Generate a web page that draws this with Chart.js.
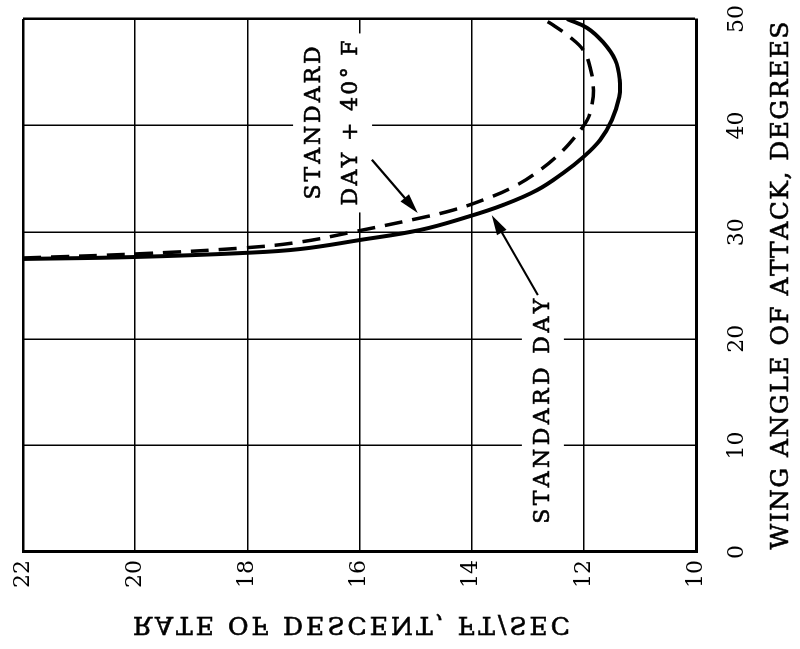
<!DOCTYPE html>
<html>
<head>
<meta charset="utf-8">
<script src="https://cdn.jsdelivr.net/npm/chart.js@4"></script>
<style>
  html, body { margin: 0; background: #fff; overflow: hidden; }
  #wrap { position: relative; width: 800px; height: 649px; overflow: hidden; }
  /* the chart is drawn upright, then turned a quarter to the left like the scan */
  #graf { position: absolute; left: 0; top: 0; transform-origin: 0 0; transform: translateY(649px) rotate(-90deg); }
</style>
</head>
<body>
<div id="wrap"><canvas id="graf" width="649" height="800"></canvas></div>
<script>
// wing angle of attack, degrees
const angleTicks = [0, 10, 20, 30, 40, 50]
// rate of descent, ft/sec
const rateTicks = [10, 12, 14, 16, 18, 20, 22]

// standard day
const stdAngle = [27.49, 27.67, 28.05, 28.42, 29.27, 30.21, 31.43, 32.55, 33.96, 35.55, 37.05, 38.65, 40.53, 42.68, 44.28, 46.15, 47.84, 49.16, 50.0]
const stdRate = [22.0, 20.04, 18.08, 17.06, 15.99, 14.92, 14.08, 13.44, 12.83, 12.37, 12.01, 11.71, 11.50, 11.37, 11.36, 11.44, 11.66, 11.94, 12.30]

// standard day + 40 F
const hotAngle = [27.58, 27.95, 28.52, 29.08, 30.02, 31.33, 32.08, 33.02, 34.24, 35.83, 37.43, 38.93, 40.53, 42.12, 43.62, 45.5, 47.09, 48.31, 49.44, 50.0]
const hotRate = [22.0, 20.04, 18.08, 17.06, 16.12, 14.92, 14.33, 13.80, 13.26, 12.78, 12.42, 12.16, 11.94, 11.85, 11.83, 11.89, 12.01, 12.25, 12.55, 12.73]

const xTitle = 'WING ANGLE OF ATTACK, DEGREES'
const yTitle = 'RATE OF DESCENT, FT/SEC'

const serif = '"DejaVu Serif", "Liberation Serif", serif'

// notes on the plot (positions in data units: angle, rate; width in px)
const notes = [
    { lines: ['STANDARD', 'DAY + 40° F'], widths: [153, 165], angle: 40.25, rate: 16.48 },
    { lines: ['STANDARD DAY'], widths: [225], angle: 13.2, rate: 12.73 }
]
const arrows = [
    { from: [36.8, 15.78], to: [31.8, 14.96] },
    { from: [24.1, 12.82], to: [31.6, 13.64] }
]

// text spread out to a given width, the scan's type is wider than ours
function spaced(ctx, text, cx, cy, width) {
    const chars = [...text]
    const ws = chars.map(c => ctx.measureText(c).width)
    const total = ws.reduce((s, v) => s + v, 0)
    const gap = chars.length > 1 ? (width - total) / (chars.length - 1) : 0
    let x = cx - width / 2
    ctx.textAlign = 'left'
    ctx.lineWidth = 0.6
    chars.forEach((c, i) => {
        ctx.fillText(c, x, cy)
        ctx.strokeText(c, x, cy)
        x += ws[i] + gap
    })
}

function arrow(ctx, x0, y0, x1, y1) {
    const a = Math.atan2(y1 - y0, x1 - x0)
    const len = 20, half = 5.5
    ctx.lineWidth = 2.2
    ctx.beginPath()
    ctx.moveTo(x0, y0)
    ctx.lineTo(x1 - len * 0.7 * Math.cos(a), y1 - len * 0.7 * Math.sin(a))
    ctx.stroke()
    ctx.beginPath()
    ctx.moveTo(x1, y1)
    ctx.lineTo(x1 - len * Math.cos(a) + half * Math.sin(a), y1 - len * Math.sin(a) - half * Math.cos(a))
    ctx.lineTo(x1 - len * Math.cos(a) - half * Math.sin(a), y1 - len * Math.sin(a) + half * Math.cos(a))
    ctx.closePath()
    ctx.fill()
}

const decor = {
    id: 'decor',
    afterDatasetsDraw(chart) {
        const { ctx, chartArea: a, scales: { x, y } } = chart
        ctx.save()
        ctx.fillStyle = '#000'
        ctx.strokeStyle = '#000'
        ctx.textBaseline = 'middle'

        // axis titles
        ctx.font = '25px ' + serif
        spaced(ctx, xTitle, (a.left + a.right) / 2, 781, 528)
        ctx.save()
        ctx.translate(25, (a.top + a.bottom) / 2 - 8)
        ctx.rotate(Math.PI / 2)
        ctx.scale(1, -1)   // the scan shows this title mirrored
        spaced(ctx, yTitle, 0, 0, 437)
        ctx.restore()

        // notes with a white box that cuts the grid
        ctx.font = '22px ' + serif
        const lh = 37
        notes.forEach(n => {
            const px = x.getPixelForValue(n.angle)
            const py = y.getPixelForValue(n.rate)
            const w = Math.max(...n.widths)
            const h = (n.lines.length - 1) * lh + 18
            ctx.fillStyle = '#fff'
            ctx.fillRect(px - w / 2 - 7, py - h / 2 - 12, w + 14, h + 24)
            ctx.fillStyle = '#000'
            n.lines.forEach((t, i) => {
                spaced(ctx, t, px, py - (n.lines.length - 1) * lh / 2 + i * lh, n.widths[i])
            })
        })

        arrows.forEach(r => {
            arrow(ctx,
                x.getPixelForValue(r.from[0]), y.getPixelForValue(r.from[1]),
                x.getPixelForValue(r.to[0]), y.getPixelForValue(r.to[1]))
        })
        ctx.restore()
    }
}

const gridColor = '#000'

const config = {
    type: 'scatter',
    data: {
        datasets: [{
            label: 'STANDARD DAY',
            data: stdAngle.map((v, i) => ({ x: v, y: stdRate[i] })),
            showLine: true,
            borderColor: '#000',
            borderWidth: 4,
            pointRadius: 0,
            tension: 0.4,
            fill: false
        }, {
            label: 'STANDARD DAY + 40° F',
            data: hotAngle.map((v, i) => ({ x: v, y: hotRate[i] })),
            showLine: true,
            borderColor: '#000',
            borderWidth: 3.5,
            borderDash: [18, 10],
            pointRadius: 0,
            tension: 0.4,
            fill: false
        }]
    },
    options: {
        responsive: false,
        animation: false,
        layout: { padding: { top: 23, right: 19, left: 0, bottom: 0 } },
        plugins: {
            legend: { display: false },
            tooltip: { enabled: false }
        },
        scales: {
            x: {
                type: 'linear',
                position: 'bottom',
                min: 0,
                max: 50,
                afterBuildTicks: s => { s.ticks = angleTicks.map(v => ({ value: v })) },
                afterFit: s => { s.height = 104; s.paddingLeft = 0; s.paddingRight = 0 },
                grid: {
                    color: gridColor,
                    lineWidth: c => (c.tick && c.tick.value === 50 ? 2.5 : 1.5),
                    drawTicks: false
                },
                border: { display: true, color: '#000', width: 3 },
                ticks: {
                    padding: 28,
                    color: '#000',
                    maxRotation: 0,
                    autoSkip: false,
                    font: { family: serif, size: 22 }
                }
            },
            y: {
                type: 'linear',
                position: 'left',
                min: 10,
                max: 22,
                afterBuildTicks: s => { s.ticks = rateTicks.map(v => ({ value: v })) },
                afterFit: s => { s.width = 97; s.paddingTop = 0; s.paddingBottom = 0 },
                grid: {
                    color: gridColor,
                    lineWidth: c => (c.tick && c.tick.value === 22 ? 2.5 : 1.5),
                    drawTicks: false
                },
                border: { display: true, color: '#000', width: 3 },
                ticks: {
                    padding: 8,
                    color: '#000',
                    autoSkip: false,
                    font: { family: serif, size: 22 }
                }
            }
        }
    },
    plugins: [decor]
}

const grafic = new Chart(document.getElementById('graf').getContext('2d'), config)
</script>
</body>
</html>
